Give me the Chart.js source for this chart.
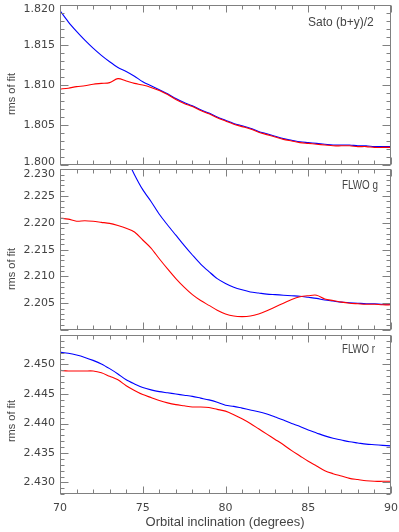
<!DOCTYPE html>
<html>
<head>
<meta charset="utf-8">
<script src="https://cdn.jsdelivr.net/npm/chart.js@4"></script>
<style>
  html, body { margin: 0; padding: 0; background: #fff; }
  #contenedor { position: relative; width: 399px; height: 532px; overflow: hidden; }
  canvas { position: absolute; left: 0; }
</style>
</head>
<body>
<div id="contenedor">
  <canvas id="panelSato" width="399" height="170" style="top:0px"></canvas>
  <canvas id="panelG" width="399" height="170" style="top:165px"></canvas>
  <canvas id="panelR" width="399" height="202" style="top:330px"></canvas>
</div>
<script>
// Inclinación orbital (grados)
const inclinacion = [70, 70.5, 71, 71.5, 72, 72.5, 73, 73.5, 74, 74.5, 75, 75.5, 76, 76.5, 77, 77.5,
  78, 78.5, 79, 79.5, 80, 80.5, 81, 81.5, 82, 82.5, 83, 83.5, 84, 84.5, 85, 85.5, 86, 86.5, 87, 87.5,
  88, 88.5, 89, 89.5, 90];

// Sato (b+y)/2
const satoAzul = [1.8193, 1.8179, 1.8167, 1.8156, 1.8146, 1.8137, 1.8129, 1.8122, 1.8117, 1.8111,
  1.8104, 1.8099, 1.8094, 1.8089, 1.8083, 1.8078, 1.8074, 1.8069, 1.8065, 1.8060, 1.8056, 1.8052,
  1.8049, 1.8046, 1.8042, 1.8039, 1.8036, 1.8033, 1.8031, 1.8029, 1.8028, 1.8027, 1.8026, 1.8025,
  1.8025, 1.8025, 1.8024, 1.8024, 1.8023, 1.8023, 1.8023];
const satoRojo = [1.8095, 1.8096, 1.8098, 1.8099, 1.8101, 1.8102, 1.8103, 1.8108, 1.8105, 1.8102,
  1.8100, 1.8097, 1.8093, 1.8088, 1.8082, 1.8077, 1.8073, 1.8068, 1.8064, 1.8059, 1.8055, 1.8051,
  1.8048, 1.8045, 1.8041, 1.8038, 1.8035, 1.8032, 1.8030, 1.8028, 1.8027, 1.8026, 1.8025, 1.8024,
  1.8024, 1.8024, 1.8023, 1.8023, 1.8022, 1.8022, 1.8022];

// FLWO g
const gAzul = [null, null, null, null, null, null, null, null, 2.2322, 2.2290,
  2.2262, 2.2240, 2.2216, 2.2196, 2.2177, 2.2158, 2.2140, 2.2123, 2.2109, 2.2096, 2.2087, 2.2080,
  2.2075, 2.2071, 2.2069, 2.2067, 2.2066, 2.2065, 2.2064, 2.2063, 2.2061, 2.2059, 2.2056, 2.2054,
  2.2052, 2.2051, 2.2050, 2.2049, 2.2049, 2.2048, 2.2048];
const gRojo = [2.2209, 2.2207, 2.2203, 2.2204, 2.2203, 2.2201, 2.2199, 2.2195, 2.2190, 2.2183,
  2.2168, 2.2153, 2.2133, 2.2114, 2.2096, 2.2080, 2.2066, 2.2055, 2.2046, 2.2037, 2.2030, 2.2026,
  2.2025, 2.2026, 2.2030, 2.2036, 2.2043, 2.2050, 2.2057, 2.2062, 2.2064, 2.2065, 2.2058, 2.2055,
  2.2052, 2.2050, 2.2049, 2.2048, 2.2048, 2.2047, 2.2047];

// FLWO r
const rAzul = [2.4521, 2.4519, 2.4516, 2.4512, 2.4507, 2.4501, 2.4493, 2.4484, 2.4474, 2.4467,
  2.4461, 2.4457, 2.4454, 2.4452, 2.4450, 2.4448, 2.4446, 2.4443, 2.4440, 2.4436, 2.4431, 2.4429,
  2.4426, 2.4423, 2.4420, 2.4416, 2.4411, 2.4406, 2.4400, 2.4395, 2.4389, 2.4384, 2.4379, 2.4375,
  2.4372, 2.4369, 2.4367, 2.4365, 2.4364, 2.4363, 2.4362];
const rRojo = [2.4490, 2.4489, 2.4489, 2.4489, 2.4489, 2.4486, 2.4480, 2.4474, 2.4464, 2.4456,
  2.4449, 2.4444, 2.4439, 2.4435, 2.4432, 2.4430, 2.4428, 2.4428, 2.4427, 2.4424, 2.4421, 2.4415,
  2.4408, 2.4400, 2.4391, 2.4382, 2.4373, 2.4364, 2.4354, 2.4345, 2.4336, 2.4328, 2.4320, 2.4315,
  2.4311, 2.4307, 2.4305, 2.4303, 2.4302, 2.4302, 2.4302];

// Etiquetas de los ejes
const ticksSato = ['1.800', '1.805', '1.810', '1.815', '1.820'];
const ticksG = ['2.205', '2.210', '2.215', '2.220', '2.225', '2.230'];
const ticksR = ['2.430', '2.435', '2.440', '2.445', '2.450'];
const ticksX = ['70', '75', '80', '85', '90'];

const COLOR_EJE = '#808080';
const COLOR_TEXTO = '#444';

// Marco con marcas hacia dentro, etiquetas y textos (estilo IDL)
const marcoPlugin = {
  id: 'marco',
  afterDraw(chart, args, o) {
    const ctx = chart.ctx;
    const a = chart.chartArea;
    const xs = chart.scales.x, ys = chart.scales.y;
    ctx.save();
    ctx.strokeStyle = COLOR_EJE;
    ctx.lineWidth = 1;
    const L = Math.round(a.left) + 0.5, R = Math.round(a.right) - 0.5;
    const T = Math.round(a.top) + 0.5, B = Math.round(a.bottom) - 0.5;
    ctx.strokeRect(L, T, R - L, B - T);

    ctx.beginPath();
    for (let v = 70; v <= 90; v++) {
      const px = Math.round(xs.getPixelForValue(v)) + 0.5;
      const largo = v % 5 === 0 ? 7 : 4;
      ctx.moveTo(px, B); ctx.lineTo(px, B - largo);
      ctx.moveTo(px, T); ctx.lineTo(px, T + largo);
    }
    const k0 = Math.ceil(ys.min * 1000 - 1e-6), k1 = Math.floor(ys.max * 1000 + 1e-6);
    for (let k = k0; k <= k1; k++) {
      const py = Math.round(ys.getPixelForValue(k / 1000)) + 0.5;
      const largo = k % 5 === 0 ? 8 : 4;
      ctx.moveTo(L, py); ctx.lineTo(L + largo, py);
      ctx.moveTo(R, py); ctx.lineTo(R - largo, py);
    }
    ctx.stroke();

    ctx.fillStyle = COLOR_TEXTO;
    ctx.font = '11px "DejaVu Sans"';
    ctx.textAlign = 'right';
    ctx.textBaseline = 'middle';
    o.etiquetasY.forEach(t => {
      const v = parseFloat(t);
      let py = ys.getPixelForValue(v);
      if (Math.abs(v - ys.max) < 1e-6) py += 4.5;
      if (Math.abs(v - ys.min) < 1e-6) py -= 3;
      ctx.fillText(t, a.left - 5, py);
    });

    if (o.etiquetasX) {
      ctx.textAlign = 'center';
      o.etiquetasX.forEach(t => {
        ctx.fillText(t, xs.getPixelForValue(parseFloat(t)), a.bottom + 14);
      });
      ctx.font = '13px "Liberation Sans"';
      ctx.fillText('Orbital inclination (degrees)', 225, a.bottom + 28);
    }

    // título del eje y
    ctx.save();
    ctx.translate(12, o.tituloY);
    ctx.rotate(-Math.PI / 2);
    ctx.textAlign = 'center';
    ctx.font = '11px "Liberation Sans"';
    ctx.fillText('rms of fit', 0, 0);
    ctx.restore();

    // nombre del panel
    ctx.textAlign = 'left';
    ctx.font = '12px "Liberation Sans"';
    ctx.fillText(o.nota, o.notaX, o.notaY, o.notaAncho);
    ctx.restore();
  }
};

function crearPanel(id, azul, rojo, yMin, yMax, relleno, marco) {
  const puntos = serie => inclinacion.map((x, i) => ({ x: x, y: serie[i] }));
  return new Chart(document.getElementById(id), {
    type: 'line',
    data: {
      datasets: [
        { label: 'rojo', data: puntos(rojo), borderColor: '#ff0000', borderWidth: 1.1,
          pointRadius: 0, tension: 0.3, fill: false },
        { label: 'azul', data: puntos(azul), borderColor: '#0000ff', borderWidth: 1.1,
          pointRadius: 0, tension: 0.3, fill: false }
      ]
    },
    options: {
      responsive: false,
      animation: false,
      devicePixelRatio: 1,
      layout: { padding: relleno },
      plugins: { legend: { display: false }, tooltip: { enabled: false }, marco: marco },
      scales: {
        x: { type: 'linear', min: 70, max: 90, display: false },
        y: { type: 'linear', min: yMin, max: yMax, display: false }
      }
    },
    plugins: [marcoPlugin]
  });
}

crearPanel('panelSato', satoAzul, satoRojo, 1.800, 1.820,
  { left: 60, right: 8, top: 5, bottom: 5 },
  { etiquetasY: ticksSato, tituloY: 94, nota: 'Sato (b+y)/2', notaX: 308, notaY: 22.5, notaAncho: 68 });

crearPanel('panelG', gAzul, gRojo, 2.200, 2.230,
  { left: 60, right: 8, top: 4.3, bottom: 5 },
  { etiquetasY: ticksG, tituloY: 104, nota: 'FLWO g', notaX: 342, notaY: 21, notaAncho: 36 });

crearPanel('panelR', rAzul, rRojo, 2.428, 2.455,
  { left: 60, right: 8, top: 5, bottom: 37.7 },
  { etiquetasY: ticksR, tituloY: 91, nota: 'FLWO r', notaX: 342, notaY: 20, notaAncho: 33, etiquetasX: ticksX });
</script>
</body>
</html>
